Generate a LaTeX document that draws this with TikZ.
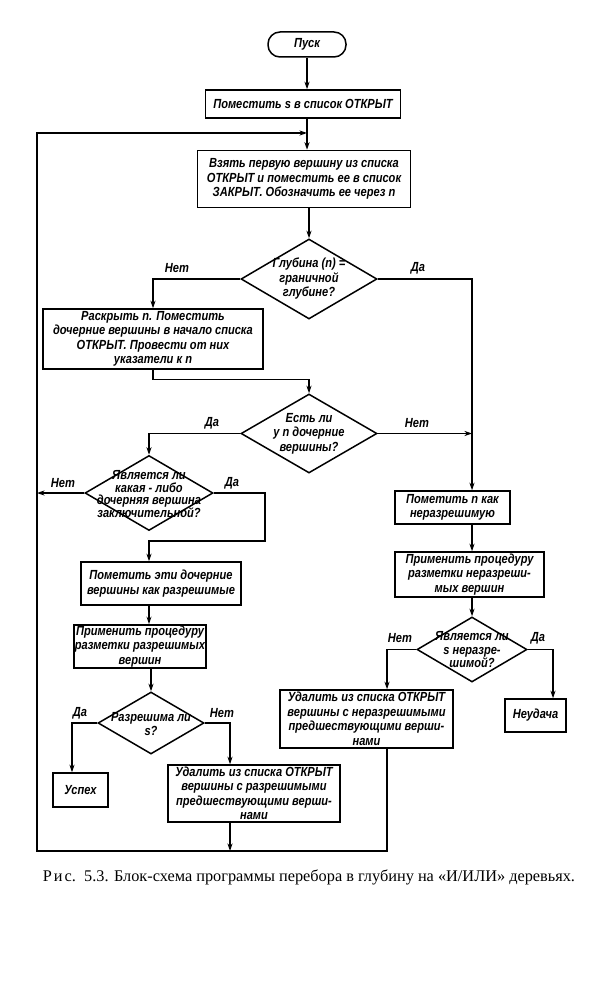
\documentclass[tikz,border=0pt]{standalone}
\usepackage{fontspec}
\setmainfont{Liberation Serif}
\newfontfamily\dfont[FakeStretch=0.84]{Liberation Sans}
\usetikzlibrary{shapes.geometric,arrows.meta,calc}
\begin{document}
\begin{tikzpicture}[x=1pt,y=-1pt,
  every node/.style={font=\dfont\bfseries\itshape\fontsize{13.2}{14.5}\selectfont},
  blk/.style={draw,line width=1.5pt,align=center,inner sep=1pt},
  dia/.style={draw,diamond,line width=1.5pt,inner sep=0pt},
  ln/.style={line width=1.3pt},
  arr/.style={ln,-{Stealth[length=7.5pt,width=5pt]}},
  lbl/.style={inner sep=0pt,align=center}
]
\useasboundingbox (0,0) rectangle (613,1000);

% nodes
\node[blk,rounded corners=12pt,minimum width=78pt,minimum height=25pt] (start) at (307,44.5) {Пуск};
\node[blk,minimum width=195pt,minimum height=28pt] (b1) at (303,104) {Поместить s в список ОТКРЫТ};
\node[blk,minimum width=213pt,minimum height=57pt] (b2) at (304,179) {Взять первую вершину из списка\\ОТКРЫТ и поместить ее в список\\ЗАКРЫТ. Обозначить ее через n};
\node[dia,minimum width=136pt,minimum height=80pt] (d1) at (309,279) {};
\node[lbl] (d1t) at (309,279) {Глубина (n) =\\граничной\\глубине?};
\node[blk,minimum width=220pt,minimum height=60pt] (b3) at (153,339) {Раскрыть n. Поместить\\дочерние вершины в начало списка\\ОТКРЫТ. Провести от них\\указатели к n};
\node[dia,minimum width=136pt,minimum height=79pt] (d2) at (309,433.5) {};
\node[lbl] (d2t) at (309,433.5) {Есть ли\\у n дочерние\\вершины?};
\node[dia,minimum width=128pt,minimum height=75pt] (d3) at (149,493) {};
\node[lbl] (d3t) at (149,494) {Является ли\\[-2pt]какая - либо\\[-2pt]дочерняя вершина\\[-2pt]заключительной?};
\node[blk,minimum width=160pt,minimum height=43pt] (b4) at (161,583.5) {Пометить эти дочерние\\вершины как разрешимые};
\node[blk,minimum width=126pt,minimum height=43pt] (b5) at (140,646.5) {Применить процедуру\\разметки разрешимых\\вершин};
\node[dia,minimum width=106pt,minimum height=62pt] (d4) at (151,723) {};
\node[lbl] (d4t) at (151,724) {Разрешима ли\\s?};
\node[blk,minimum width=55pt,minimum height=34pt] (usp) at (80.5,790) {Успех};
\node[blk,minimum width=172pt,minimum height=57pt] (ud1) at (254,793.5) {Удалить из списка ОТКРЫТ\\вершины с разрешимыми\\предшествующими верши-\\нами};
\node[blk,minimum width=115pt,minimum height=33pt] (b6) at (452.5,507.5) {Пометить n как\\неразрешимую};
\node[blk,minimum width=149pt,minimum height=45pt] (b7) at (469.5,574.5) {Применить процедуру\\разметки неразреши-\\мых вершин};
\node[dia,minimum width=110pt,minimum height=65pt] (d5) at (472,649.5) {};
\node[lbl] (d5t) at (472,650) {Является ли\\[-1pt]s неразре-\\[-1pt]шимой?};
\node[blk,minimum width=173pt,minimum height=58pt] (ud2) at (366.5,719) {Удалить из списка ОТКРЫТ\\вершины с неразрешимыми\\предшествующими верши-\\нами};
\node[blk,minimum width=61pt,minimum height=33pt] (fail) at (535.5,715.5) {Неудача};

% branch labels
\node[lbl] (l1) at (177,268) {Нет};
\node[lbl] (l2) at (418,268) {Да};
\node[lbl] (l3) at (212,423) {Да};
\node[lbl] (l4) at (417,423) {Нет};
\node[lbl] (l5) at (63,483) {Нет};
\node[lbl] (l6) at (232,483) {Да};
\node[lbl] (l7) at (80,713) {Да};
\node[lbl] (l8) at (222,713) {Нет};
\node[lbl] (l9) at (400,638) {Нет};
\node[lbl] (l10) at (538,638) {Да};

% helper coordinates
\coordinate (lpR) at (387,851);
\coordinate (lpL) at (37,851);
\coordinate (lpT) at (37,133);
\coordinate (jtop) at (307,133);
\coordinate (k1) at (265,541);

% connectors
\draw[arr] (start.south) -- (start.south |- b1.north);
\draw[arr] (start.south |- b1.south) -- (start.south |- b2.north);
\draw[arr] (ud2.south -| lpR) -- (lpR) -- (lpL) -- (lpT) -- (jtop);
\draw[arr] (b2.south -| d1.north) -- (d1.north);
\draw[arr] (d1.west) -| (b3.north);
\draw[arr] (d1.east) -| (b6.north -| d5.north);
\draw[arr] (b3.south) -- ++(0,10) -| (d2.north);
\draw[arr] (d2.east) -- (d2.east -| d5.north);
\draw[arr] (d2.west) -| (d3.north);
\draw[arr] (d3.west) -- (d3.west -| lpL);
\draw[arr] (d3.east) -| (k1) -| (b4.north -| d3.north);
\draw[arr] (b4.south -| d3.north) -- (b5.north -| d3.north);
\draw[arr] (b5.south -| d4.north) -- (d4.north);
\draw[arr] (d4.west) -| ([xshift=-8.5pt]usp.north);
\draw[arr] (d4.east) -| ([xshift=-24pt]ud1.north);
\draw[arr] ([xshift=-24pt]ud1.south) -- ([xshift=-24pt]ud1.south |- lpL);
\draw[arr] (b6.south -| d5.north) -- (b7.north -| d5.north);
\draw[arr] (b7.south -| d5.north) -- (d5.north);
\draw[arr] (d5.west) -| (ud2.north -| lpR);
\draw[arr] (d5.east) -| ([xshift=17.5pt]fail.north);

% caption
\node[font=\rmfamily\mdseries\upshape\fontsize{16.3}{19}\selectfont,inner sep=0pt] (cap) at (309,877) {Р\kern2pt и\kern2pt с.\ \ 5.3. Блок-схема программы перебора в глубину на «И/ИЛИ» деревьях.};
\end{tikzpicture}
\end{document}
